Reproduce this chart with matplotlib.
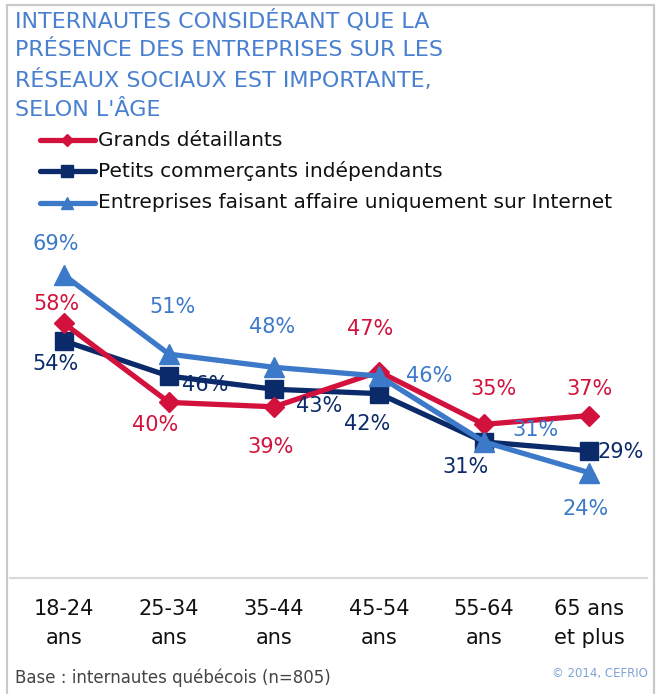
import matplotlib.pyplot as plt
from matplotlib.patches import Rectangle
from matplotlib.lines import Line2D

# données
categories = ["18-24\nans", "25-34\nans", "35-44\nans", "45-54\nans", "55-64\nans", "65 ans\net plus"]
grands = [58, 40, 39, 47, 35, 37]
petits = [54, 46, 43, 42, 31, 29]
internet = [69, 51, 48, 46, 31, 24]

# décalage des étiquettes (pixels)
off_grands = [(-8, 19), (-14, -23), (-3, -40), (-9, 43), (9, 35), (0, 27)]
off_petits = [(-8, -23), (36, -9), (45, -17), (-12, -30), (-19, -25), (32, -1)]
off_internet = [(-8, 31), (4, 47), (-2, 40), (50, 0), (51, 12), (-3, -36)]

RED = "#d2123d"
NAVY = "#0b2a69"
BLUE = "#3d79c9"

plt.rcParams["font.family"] = ["DejaVu Sans"]

W, H = 662, 694
fig = plt.figure(figsize=(W / 100, H / 100), dpi=100)

# cadre gris
fig.add_artist(Rectangle((7 / W, -0.01), 647 / W, 1 - 5 / H + 0.01, transform=fig.transFigure,
                         fill=False, edgecolor="#c9c9c9", lw=1.6))

ax = fig.add_axes([10 / W, (H - 578) / H, 637 / W, 338 / H])
x = list(range(len(categories)))

series = [
    (petits, NAVY, "s", 13, off_petits, 2),
    (grands, RED, "D", 10, off_grands, 3),
    (internet, BLUE, "^", 14, off_internet, 4),
]
for vals, col, mk, ms, offs, z in series:
    ax.plot(x, vals, color=col, lw=3.8, marker=mk, markersize=ms, zorder=z)
    for xi, v, (dx, dy) in zip(x, vals, offs):
        ax.annotate(f"{v}%", (xi, v), xytext=(dx * 0.72, dy * 0.72), textcoords="offset points",
                    ha="center", va="center", color=col, fontsize=15, zorder=6)

ax.set_xlim(-0.514, 5.552)
ax.set_ylim(0, 77)
ax.set_yticks([])
ax.set_xticks(x)
ax.set_xticklabels(categories, fontsize=15, color="#111111", linespacing=1.55)
ax.tick_params(axis="x", length=0, pad=15)
for s in ["top", "left", "right"]:
    ax.spines[s].set_visible(False)
ax.spines["bottom"].set_color("#d8d8d8")
ax.spines["bottom"].set_linewidth(1.5)
ax.patch.set_alpha(0)

# titre
fig.text(15 / W, 1 - 9 / H, "INTERNAUTES CONSIDÉRANT QUE LA\nPRÉSENCE DES ENTREPRISES SUR LES\n"
         "RÉSEAUX SOCIAUX EST IMPORTANTE,\nSELON L'ÂGE", ha="left", va="top",
         color="#4a80d0", fontsize=16, linespacing=1.52)

# légende
leg_items = [(RED, "D", 6, "Grands détaillants", 140),
             (NAVY, "s", 9, "Petits commerçants indépendants", 171),
             (BLUE, "^", 9, "Entreprises faisant affaire uniquement sur Internet", 203)]
for col, mk, ms, name, yy in leg_items:
    fy = 1 - yy / H
    fig.add_artist(Line2D([40 / W, 95 / W], [fy, fy], transform=fig.transFigure,
                          color=col, lw=3.8, solid_capstyle="round"))
    fig.add_artist(Line2D([67 / W], [fy], transform=fig.transFigure, color=col,
                          marker=mk, markersize=ms, lw=0))
    fig.text(98 / W, fy, name, ha="left", va="center", fontsize=14.5, color="#111111")

fig.text(15 / W, 1 - 678 / H, "Base : internautes québécois (n=805)", ha="left", va="center",
         fontsize=12, color="#444444")
fig.text(648 / W, 1 - 673 / H, "© 2014, CEFRIO", ha="right", va="center",
         fontsize=8.5, color="#7fa3d8")

fig.savefig("out.png", dpi=100)
